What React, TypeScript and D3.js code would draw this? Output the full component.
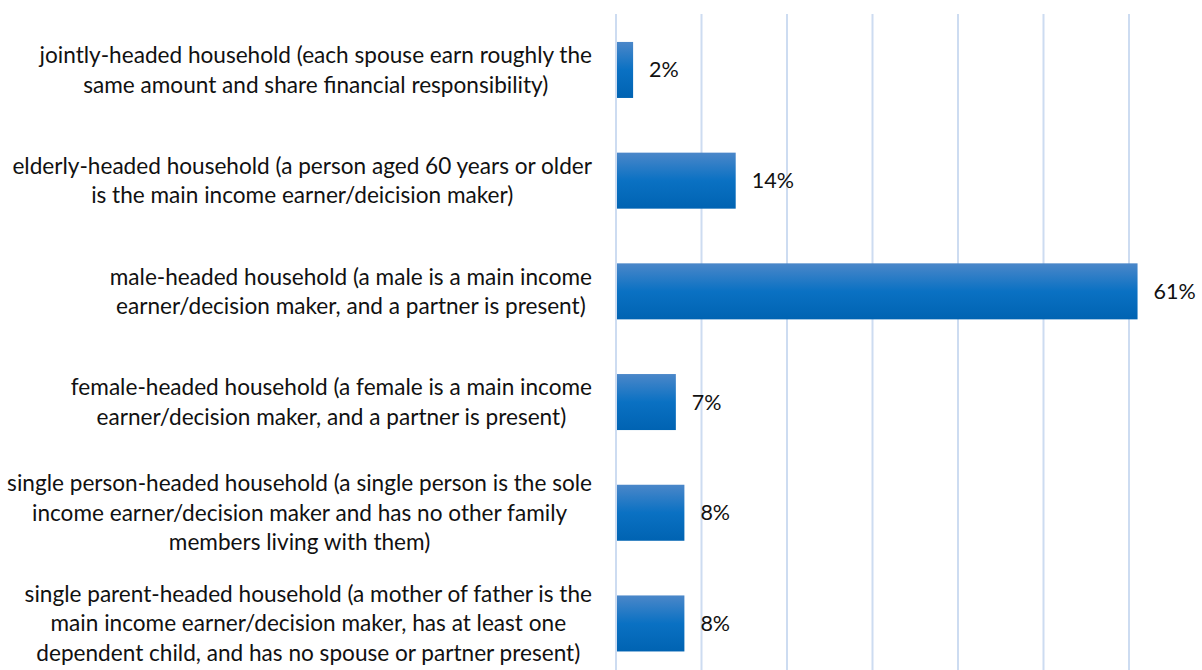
import React, { useEffect, useRef } from "react";
import * as d3 from "d3";

const categories = [
  "jointly-headed",
  "elderly-headed",
  "male-headed",
  "female-headed",
  "single person-headed",
  "single parent-headed",
];

const labelLines: string[][] = [
  ["jointly-headed household (each spouse earn roughly the", "same amount and share financial responsibility)"],
  ["elderly-headed household (a person aged 60 years or older", "is the main income earner/deicision maker)"],
  ["male-headed household (a male is a main income", "earner/decision maker, and a partner is present)"],
  ["female-headed household (a female is a main income", "earner/decision maker, and a partner is present)"],
  ["single person-headed household (a single person is the sole", "income earner/decision maker and has no other family", "members living with them)"],
  ["single parent-headed household (a mother of father is the", "main income earner/decision maker, has at least one", "dependent child, and has no spouse or partner present)"],
];

const values = [2, 14, 61, 7, 8, 8];

const gridTicks = [0, 10, 20, 30, 40, 50, 60, 70];

const W = 1202;
const H = 670;
const FONT = "Lato, 'Open Sans', sans-serif";

export default function App() {
  const ref = useRef<SVGSVGElement | null>(null);

  useEffect(() => {
    const svg = d3.select(ref.current);
    svg.selectAll("*").remove();

    const x = d3.scaleLinear().domain([0, 70]).range([616, 616 + 85.5 * 7]);
    const y = d3
      .scaleBand<string>()
      .domain(categories)
      .range([14.6, 678.8])
      .paddingInner(0.494)
      .paddingOuter(0.247);

    const defs = svg.append("defs");
    const grad = defs
      .append("linearGradient")
      .attr("id", "barGrad")
      .attr("x1", 0)
      .attr("y1", 0)
      .attr("x2", 0)
      .attr("y2", 1);
    grad.append("stop").attr("offset", "0%").attr("stop-color", "#4b87c9");
    grad.append("stop").attr("offset", "50%").attr("stop-color", "#0a71c3");
    grad.append("stop").attr("offset", "100%").attr("stop-color", "#0063b2");

    // gridlines
    svg
      .append("g")
      .selectAll("line")
      .data(gridTicks)
      .join("line")
      .attr("x1", (d) => x(d))
      .attr("x2", (d) => x(d))
      .attr("y1", 14)
      .attr("y2", 680)
      .attr("stroke", "#cddcf1")
      .attr("stroke-width", 2);

    // bars
    svg
      .append("g")
      .selectAll("rect")
      .data(values)
      .join("rect")
      .attr("x", x(0) + 1)
      .attr("y", (_, i) => y(categories[i])!)
      .attr("width", (d) => x(d) - x(0) - 1)
      .attr("height", y.bandwidth())
      .attr("fill", "url(#barGrad)");

    // data labels
    svg
      .append("g")
      .selectAll("text")
      .data(values)
      .join("text")
      .attr("x", (d) => x(d) + 16)
      .attr("y", (_, i) => y(categories[i])! + y.bandwidth() / 2)
      .attr("dy", "0.35em")
      .attr("font-family", FONT)
      .attr("font-size", 21.5)
      .attr("fill", "#111")
      .text((d) => `${d}%`);

    // category labels
    const lineH = 29.5;
    const rightEdge = 592;
    categories.forEach((c, i) => {
      const lines = labelLines[i];
      const g = svg.append("g");
      const cy = y(c)! + y.bandwidth() / 2;
      const texts = lines.map((ln, j) =>
        g
          .append("text")
          .attr("y", cy + (j - (lines.length - 1) / 2) * lineH)
          .attr("dy", "0.35em")
          .attr("text-anchor", "middle")
          .attr("font-family", FONT)
          .attr("font-size", 22.6)
          .attr("fill", "#111")
          .text(ln)
      );
      const maxW = d3.max(texts, (t) => (t.node() as SVGTextElement).getComputedTextLength()) || 0;
      texts.forEach((t) => t.attr("x", rightEdge - maxW / 2));
    });
  }, []);

  return (
    <svg
      ref={ref}
      width={W}
      height={H}
      style={{ position: "absolute", left: 0, top: 0, background: "#fff" }}
    />
  );
}
